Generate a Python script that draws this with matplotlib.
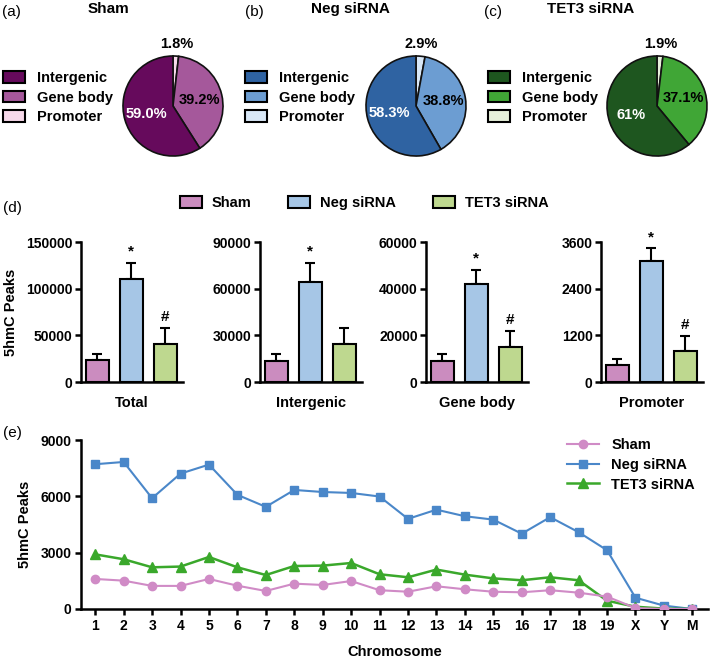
import numpy as np
import matplotlib
matplotlib.use('Agg')
import matplotlib.pyplot as plt
from matplotlib.patches import Patch

plt.rcParams['font.family'] = ['Liberation Sans', 'DejaVu Sans']
plt.rcParams['font.weight'] = 'bold'

# ---- pie data (a)-(c) ----
regions = ['Intergenic', 'Gene body', 'Promoter']
pie_titles = ['Sham', 'Neg siRNA', 'TET3 siRNA']
pie_letters = ['(a)', '(b)', '(c)']
sham_pct = [59.0, 39.2, 1.8]
neg_pct = [58.3, 38.8, 2.9]
tet3_pct = [61.0, 37.1, 1.9]
sham_lbl = ['59.0%', '39.2%', '1.8%']
neg_lbl = ['58.3%', '38.8%', '2.9%']
tet3_lbl = ['61%', '37.1%', '1.9%']
pie_colors = [['#660a5c', '#a5589b', '#f7d9ea'],
              ['#2f63a2', '#6c9dd2', '#d9e8f7'],
              ['#1e561f', '#40a636', '#e6f0da']]

# ---- bar data (d) ----
groups = ['Sham', 'Neg siRNA', 'TET3 siRNA']
bar_colors = ['#cb8cbf', '#a6c6e6', '#bed88f']
panels = ['Total', 'Intergenic', 'Gene body', 'Promoter']
total_mean = [23200, 110000, 40300]
total_err = [7100, 17900, 17900]
inter_mean = [13700, 64500, 24400]
inter_err = [4500, 12000, 10500]
gene_mean = [9100, 42100, 15000]
gene_err = [2700, 5900, 6900]
prom_mean = [440, 3110, 810]
prom_err = [140, 330, 370]
ymax_list = [150000, 90000, 60000, 3600]
marks = [['', '*', '#'], ['', '*', ''], ['', '*', '#'], ['', '*', '#']]

# ---- line data (e) ----
chroms = [str(i) for i in range(1, 20)] + ['X', 'Y', 'M']
sham_line = [1600, 1510, 1230, 1230, 1600, 1240, 960, 1350, 1280, 1490,
             1000, 920, 1210, 1050, 920, 890, 1000, 870, 660, 50, 0, 0]
neg_line = [7710, 7830, 5900, 7210, 7690, 6080, 5440, 6340, 6230, 6180,
            5990, 4800, 5290, 4940, 4760, 4010, 4890, 4090, 3130, 600, 180, 0]
tet3_line = [2910, 2650, 2220, 2260, 2770, 2220, 1810, 2290, 2310, 2450,
             1850, 1690, 2100, 1830, 1630, 1530, 1690, 1530, 440, 120, 20, 0]
line_colors = ['#d08bc6', '#4a87c9', '#3aa82b']

W, H = 712, 661
fig = plt.figure(figsize=(W / 100, H / 100), dpi=100)


def px(x, y, w, h):
    return [x / W, 1 - (y + h) / H, w / W, h / H]


# pies
pie_data = [sham_pct, neg_pct, tet3_pct]
pie_lbls = [sham_lbl, neg_lbl, tet3_lbl]
pie_cx = [173, 416, 657]
leg_x = [3, 245, 488]
letter_x = [2, 245, 484]
title_x = [108, 350, 591]
for k in range(3):
    ax = fig.add_axes(px(pie_cx[k] - 52, 54, 104, 104))
    vals = pie_data[k][::-1]
    cols = pie_colors[k][::-1]
    wedges, _ = ax.pie(vals, colors=cols, startangle=90, counterclock=False,
                       wedgeprops=dict(edgecolor='#111111', linewidth=1.2))
    ax.set_xlim(-1.04, 1.04)
    ax.set_ylim(-1.04, 1.04)
    lbls = pie_lbls[k][::-1]
    for i, w in enumerate(wedges):
        ang = np.radians((w.theta1 + w.theta2) / 2)
        if i == 0:
            r = 1.25
            c = 'black'
        else:
            r = 0.55
            c = 'black' if i == 1 else 'white'
        ax.text(r * np.cos(ang), r * np.sin(ang), lbls[i], ha='center', va='center',
                fontsize=10.5, fontweight='bold', color=c)
    handles = [Patch(facecolor=pie_colors[k][j], edgecolor='black', linewidth=1.5)
               for j in range(3)]
    fig.legend(handles, regions, loc='upper left',
               bbox_to_anchor=(leg_x[k] / W, 1 - 71 / H), frameon=False,
               fontsize=10.5, handlelength=1.5, handleheight=0.8,
               labelspacing=0.38, handletextpad=0.8, borderaxespad=0, borderpad=0)
    fig.text(letter_x[k] / W, 1 - 12 / H, pie_letters[k], fontsize=11,
             fontweight='normal', va='center', ha='left')
    fig.text(title_x[k] / W, 1 - 9 / H, pie_titles[k], fontsize=11,
             fontweight='bold', va='center', ha='center')

# bars
fig.text(3 / W, 1 - 208 / H, '(d)', fontsize=11, fontweight='normal', va='center')
bar_means = [total_mean, inter_mean, gene_mean, prom_mean]
bar_errs = [total_err, inter_err, gene_err, prom_err]
bar_left = [81, 260, 426, 601]
xpos = np.arange(3)
for k in range(4):
    ax = fig.add_axes(px(bar_left[k], 242, 102, 140))
    ax.bar(xpos, bar_means[k], width=0.66, color=bar_colors, edgecolor='black',
           linewidth=1.5, zorder=3)
    ax.errorbar(xpos, bar_means[k], yerr=[[0, 0, 0], bar_errs[k]], fmt='none',
                ecolor='black', elinewidth=1.5, capsize=3.6, capthick=1.5, zorder=2)
    for i in range(3):
        if marks[k][i]:
            ax.annotate(marks[k][i], (xpos[i], bar_means[k][i] + bar_errs[k][i]),
                        xytext=(0, 3), textcoords='offset points', ha='center',
                        va='bottom', fontsize=11, fontweight='bold')
    ax.set_xlim(-0.48, 2.52)
    ax.set_ylim(0, ymax_list[k])
    ax.set_yticks(np.linspace(0, ymax_list[k], 4))
    ax.set_xticks([])
    ax.set_xlabel(panels[k], fontsize=10.5, fontweight='bold', labelpad=10)
    for s in ['top', 'right']:
        ax.spines[s].set_visible(False)
    for s in ['left', 'bottom']:
        ax.spines[s].set_linewidth(1.8)
    ax.tick_params(axis='y', width=1.8, length=4, labelsize=10, pad=2)
    for t in ax.get_yticklabels():
        t.set_fontweight('bold')
    if k == 0:
        ax.set_ylabel('5hmC Peaks', fontsize=10.5, fontweight='bold', labelpad=6)

bar_handles = [Patch(facecolor=c, edgecolor='black', linewidth=1.5) for c in bar_colors]
fig.legend(bar_handles, groups, loc='center left', ncol=3,
           bbox_to_anchor=(180 / W, 1 - 203 / H), frameon=False, fontsize=10.5,
           handlelength=1.5, handleheight=0.8, columnspacing=2.5,
           handletextpad=0.7, borderaxespad=0, borderpad=0)

# line chart
fig.text(3 / W, 1 - 433 / H, '(e)', fontsize=11, fontweight='normal', va='center')
ax = fig.add_axes(px(81, 440, 627, 169))
x = np.arange(len(chroms))
ax.plot(x, sham_line, '-o', color=line_colors[0], lw=1.5, ms=6, label='Sham',
        zorder=3)
ax.plot(x, neg_line, '-s', color=line_colors[1], lw=1.5, ms=6, label='Neg siRNA',
        zorder=2)
ax.plot(x, tet3_line, '-^', color=line_colors[2], lw=1.8, ms=6.5, label='TET3 siRNA',
        zorder=2)
ax.set_xlim(-0.5, 21.55)
ax.set_ylim(0, 9000)
ax.set_yticks([0, 3000, 6000, 9000])
ax.set_xticks(x)
ax.set_xticklabels(chroms)
for s in ['top', 'right']:
    ax.spines[s].set_visible(False)
for s in ['left', 'bottom']:
    ax.spines[s].set_linewidth(1.8)
ax.tick_params(width=1.8, length=4, labelsize=10, pad=3)
for t in ax.get_xticklabels() + ax.get_yticklabels():
    t.set_fontweight('bold')
ax.set_xlabel('Chromosome', fontsize=10.5, fontweight='bold', labelpad=9)
ax.set_ylabel('5hmC Peaks', fontsize=10.5, fontweight='bold', labelpad=6)
ax.legend(loc='upper right', bbox_to_anchor=(1.0, 1.09), frameon=False,
          fontsize=10.5, handlelength=2.2, labelspacing=0.4)

fig.savefig('out.png', dpi=100)
